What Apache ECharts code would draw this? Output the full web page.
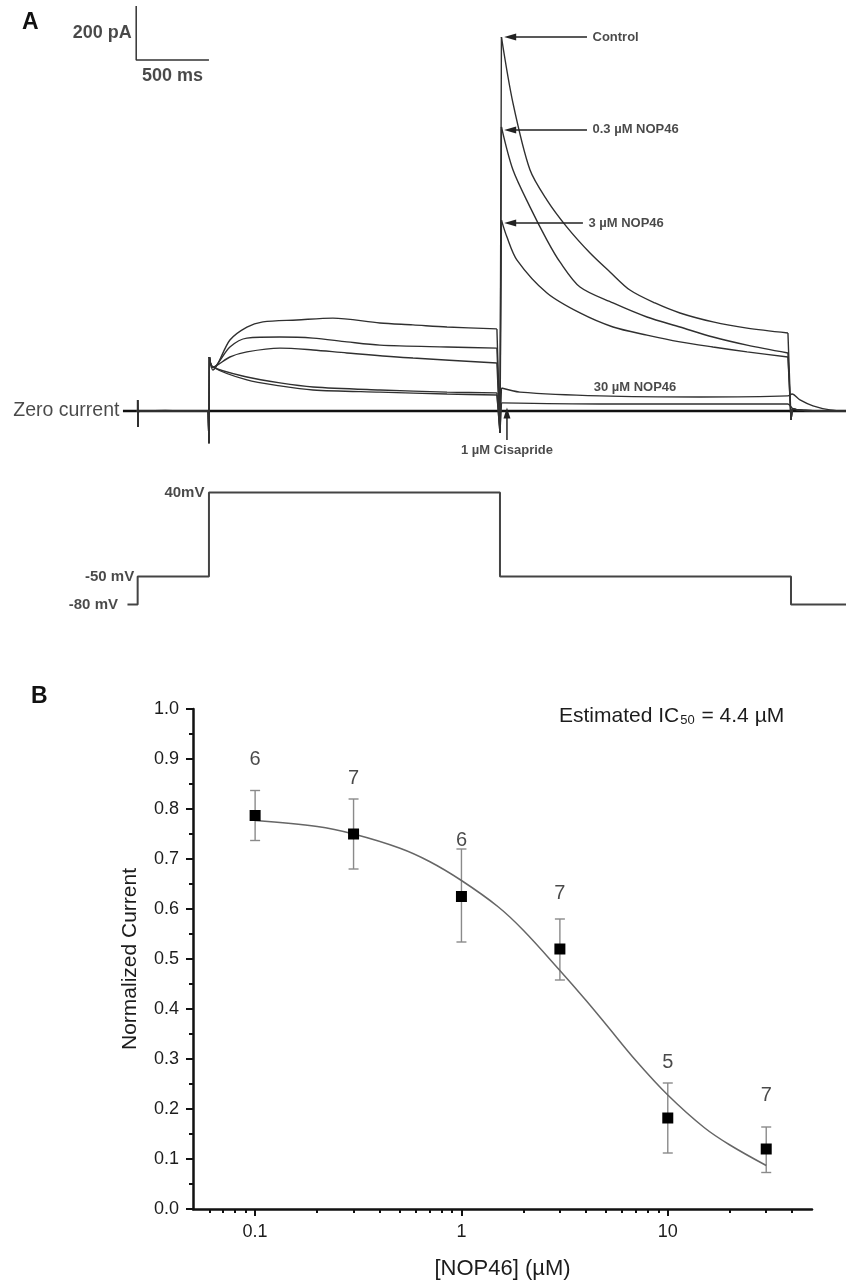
<!DOCTYPE html>
<html><head><meta charset="utf-8">
<script src="https://cdn.jsdelivr.net/npm/echarts@6/dist/echarts.min.js"></script>
<style>html,body{margin:0;padding:0;background:#fff}#c{width:846px;height:1284px}</style>
</head><body><div id="c"></div>
<script>
// ---------- Panel A : currents (time in ms, 0 = start of +40 mV step; current in pA) ----------
const traceControl = [[-500,0],[-490,0],[-490,41],[-488,-59],[-485,0],[-300,2],[-150,-1],[-5,0],
  [0,-119],[3,200],[27,152],[144,263],[261,311],[371,330],[605,337],[852,344],[1175,326],[1402,319],[1636,311],[1979,304],
  [2000,-81],[2010,1385],[2089,1141],[2206,893],[2323,781],[2460,681],[2619,585],[2756,515],[2893,448],[3065,400],[3237,363],[3464,330],[3698,307],[3979,289],
  [4000,-33],[4010,8],[4100,2],[4378,0]];
const trace03 = [[-500,0],[-490,0],[-490,41],[-488,-59],[-485,0],[-250,-1],[-5,0],
  [0,-119],[3,200],[27,160],[144,237],[261,270],[488,274],[715,270],[948,256],[1175,244],[1636,237],[1979,233],
  [2000,-81],[2010,1052],[2089,893],[2206,756],[2323,633],[2412,552],[2550,459],[2777,400],[3010,348],[3237,311],[3464,274],[3698,244],[3979,215],
  [4000,-33],[4010,8],[4100,2],[4378,0]];
const trace3 = [[-500,0],[-490,0],[-490,41],[-488,-59],[-485,0],[-200,1],[-5,0],
  [0,-119],[3,200],[27,163],[144,200],[261,219],[488,233],[715,226],[948,215],[1402,196],[1979,178],
  [2000,-81],[2010,707],[2048,644],[2117,559],[2323,437],[2550,363],[2777,311],[3010,281],[3237,256],[3464,237],[3698,219],[3979,200],
  [4000,-33],[4010,8],[4100,2],[4378,0]];
const trace30 = [[-500,0],[-490,0],[-490,41],[-488,-59],[-485,0],[-350,-1],[-5,0],
  [0,-119],[3,200],[27,163],[261,126],[488,104],[715,89],[1175,78],[1636,70],[1979,67],
  [2000,-81],[2010,85],[2137,70],[2687,56],[3374,52],[3979,56],[4007,63],[4062,41],[4151,19],[4268,4],[4378,0]];
const traceCisapride = [[-500,0],[-490,0],[-490,41],[-488,-59],[-485,0],[-100,1],[-5,0],
  [0,-119],[3,200],[27,163],[261,115],[488,93],[715,78],[1175,70],[1636,63],[1979,59],
  [2000,-81],[2010,30],[2687,26],[3979,26],[4010,10],[4080,3],[4378,0]];
const zeroCurrentLine = [[-591,0],[4378,0]];

const scaleBarOrigin = [-500, 1300];   // ms, pA
const scaleBarTime = 500;              // ms
const scaleBarCurrent = 200;           // pA

const peakLabels = ['Control', '0.3 µM NOP46', '3 µM NOP46'];
const peakLevels = [1385, 1041, 696];  // pA
const arrowTailT = [2598, 2598, 2570]; // ms
const arrowTipT = 2070;                // ms
const lowTraceLabel = {text: '30 µM NOP46', t: 2928, i: 89};
const cisaprideLabel = {text: '1 µM Cisapride', t: 2048, tailI: -107, tipI: -7};

// ---------- Voltage protocol (ms, mV) ----------
const voltageSteps = [[-560,-80],[-490,-80],[-490,-50],[0,-50],[0,40],[2000,40],[2000,-50],[4000,-50],[4000,-80],[4378,-80]];
const voltageLabels = [{t:-560, v:-80, text:'-80 mV', gap:9}, {t:-490, v:-50, text:'-50 mV', gap:3}, {t:0, v:40, text:'40mV', gap:4}];

// ---------- Panel B : concentration response ----------
const conc = [0.1, 0.3, 1, 3, 10, 30];
const normCurrent = [0.787, 0.75, 0.625, 0.52, 0.182, 0.12];
const errUpper = [0.837, 0.82, 0.72, 0.58, 0.252, 0.164];
const errLower = [0.737, 0.68, 0.534, 0.458, 0.112, 0.073];
const nCells = [6, 7, 6, 7, 5, 7];
const nLabelY = [0.9, 0.862, 0.738, 0.632, 0.293, 0.228];
const fitX = [0.1, 0.2, 0.3, 0.5, 0.7, 1, 1.5, 2, 3, 4, 5, 7, 10, 15, 20, 30];
const fitY = [0.777, 0.765, 0.75, 0.722, 0.695, 0.657, 0.605, 0.557, 0.477, 0.418, 0.37, 0.297, 0.228, 0.163, 0.128, 0.087];
const xMinorTicks = [0.06,0.07,0.08,0.09,0.2,0.3,0.4,0.5,0.6,0.7,0.8,0.9,2,3,4,5,6,7,8,9,20,30,40];

// ---------- build ----------
const FONT = "'Liberation Sans', Arial, Helvetica, sans-serif";
const INK = '#1c1c1c';
const TRACE = '#303030';
const chart = echarts.init(document.getElementById('c'), null, {renderer: 'canvas', width: 846, height: 1284});

const tRange = {min: -1436, max: 4378};
const hiddenAxis = {show: false};
const series = [];

// split a recording into slowly varying runs (drawn smoothed) and fast jumps (drawn straight)
function splitTrace(data) {
  const runs = [], jumps = [];
  let cur = [data[0]];
  for (let i = 1; i < data.length; i++) {
    if (data[i][0] - data[i - 1][0] > 22) { cur.push(data[i]); }
    else {
      if (cur.length > 1) { runs.push(...cur, null); }
      jumps.push(data[i - 1], data[i], null);
      cur = [data[i]];
    }
  }
  if (cur.length > 1) runs.push(...cur);
  return {runs, jumps};
}
function lineOn(data, smooth) {
  return {type: 'line', xAxisIndex: 0, yAxisIndex: 0, data: data, showSymbol: false, silent: true,
    connectNulls: false, smooth: smooth, lineStyle: {color: TRACE, width: 1.4}, z: 3};
}
series.push({type: 'line', xAxisIndex: 0, yAxisIndex: 0, data: zeroCurrentLine, showSymbol: false, silent: true,
  lineStyle: {color: '#111', width: 2.4}, z: 2});
[traceControl, trace03, trace3, trace30, traceCisapride].forEach(d => {
  const parts = splitTrace(d);
  series.push(lineOn(parts.runs, 0.3));
  series.push(lineOn(parts.jumps, false));
});

// scale bar
series.push({type: 'line', xAxisIndex: 0, yAxisIndex: 0, showSymbol: false, silent: true,
  lineStyle: {color: '#333', width: 1.5},
  data: [[scaleBarOrigin[0], scaleBarOrigin[1] + scaleBarCurrent], scaleBarOrigin, [scaleBarOrigin[0] + scaleBarTime, scaleBarOrigin[1]]]});

function textPoint(value, text, pos, dist, size, weight) {
  return {value: value, label: {show: true, formatter: text, position: pos, distance: dist,
    fontSize: size, fontWeight: weight || 'normal', fontFamily: FONT, color: INK}};
}
series.push({type: 'scatter', xAxisIndex: 0, yAxisIndex: 0, symbolSize: 1, silent: true,
  itemStyle: {color: 'rgba(0,0,0,0)'},
  data: [
    textPoint([scaleBarOrigin[0], scaleBarOrigin[1] + scaleBarCurrent / 2], scaleBarCurrent + ' pA', 'left', 4, 18, 'bold'),
    textPoint([scaleBarOrigin[0] + scaleBarTime / 2, scaleBarOrigin[1]], scaleBarTime + ' ms', 'bottom', 7, 18, 'bold'),
    textPoint(zeroCurrentLine[0], 'Zero current', 'left', 3, 19.5),
    textPoint([lowTraceLabel.t, lowTraceLabel.i], lowTraceLabel.text, 'inside', 0, 13, 'bold'),
    textPoint([cisaprideLabel.t, cisaprideLabel.tailI], cisaprideLabel.text, 'bottom', 4, 13, 'bold')
  ].concat(peakLabels.map((s, k) => textPoint([arrowTailT[k], peakLevels[k]], s, 'right', 5, 13, 'bold')))
});

// arrows
peakLabels.forEach((s, k) => {
  series.push({type: 'line', xAxisIndex: 0, yAxisIndex: 0, silent: true, showSymbol: true, symbol: 'none',
    lineStyle: {color: '#222', width: 1.5}, itemStyle: {color: '#222'},
    data: [{value: [arrowTailT[k], peakLevels[k]], symbol: 'none'},
           {value: [arrowTipT, peakLevels[k]], symbol: 'triangle', symbolSize: [7, 12], symbolRotate: 90}]});
});
series.push({type: 'line', xAxisIndex: 0, yAxisIndex: 0, silent: true, showSymbol: true, symbol: 'none',
  lineStyle: {color: '#222', width: 1.5}, itemStyle: {color: '#222'},
  data: [{value: [cisaprideLabel.t, cisaprideLabel.tailI], symbol: 'none'},
         {value: [cisaprideLabel.t, cisaprideLabel.tipI], symbol: 'triangle', symbolSize: [7, 11]}]});

// voltage protocol
series.push({type: 'line', xAxisIndex: 1, yAxisIndex: 1, data: voltageSteps, showSymbol: false, silent: true,
  lineStyle: {color: '#444', width: 2}});
series.push({type: 'scatter', xAxisIndex: 1, yAxisIndex: 1, symbolSize: 1, silent: true,
  itemStyle: {color: 'rgba(0,0,0,0)'},
  data: voltageLabels.map(o => textPoint([o.t, o.v], o.text, 'left', o.gap, 15, 'bold'))});

// Panel B
series.push({type: 'custom', xAxisIndex: 2, yAxisIndex: 2, silent: true, z: 3,
  data: conc.map((c, k) => [c, errLower[k], errUpper[k]]),
  encode: {x: 0, y: [1, 2]},
  renderItem: function (params, api) {
    const lo = api.coord([api.value(0), api.value(1)]);
    const hi = api.coord([api.value(0), api.value(2)]);
    const cap = 5;
    const st = {stroke: '#8a8a8a', lineWidth: 1.4};
    return {type: 'group', children: [
      {type: 'line', shape: {x1: lo[0], y1: lo[1], x2: hi[0], y2: hi[1]}, style: st},
      {type: 'line', shape: {x1: lo[0] - cap, y1: lo[1], x2: lo[0] + cap, y2: lo[1]}, style: st},
      {type: 'line', shape: {x1: hi[0] - cap, y1: hi[1], x2: hi[0] + cap, y2: hi[1]}, style: st}
    ]};
  }});
series.push({type: 'line', xAxisIndex: 2, yAxisIndex: 2, silent: true, showSymbol: false, smooth: 0.35, z: 4,
  data: fitX.map((x, k) => [x, fitY[k]]), lineStyle: {color: '#666', width: 1.5}});
series.push({type: 'scatter', xAxisIndex: 2, yAxisIndex: 2, silent: true, symbol: 'rect', symbolSize: 11, z: 5,
  itemStyle: {color: '#000', opacity: 1}, data: conc.map((c, k) => [c, normCurrent[k]])});
series.push({type: 'scatter', xAxisIndex: 2, yAxisIndex: 2, silent: true, symbolSize: 1, z: 5,
  itemStyle: {color: 'rgba(0,0,0,0)'},
  data: conc.map((c, k) => textPoint([c, nLabelY[k]], String(nCells[k]), 'inside', 0, 20))});

const axisInk = '#111';
chart.setOption({
  animation: false,
  backgroundColor: '#fff',
  textStyle: {fontFamily: FONT},
  grid: [
    {left: 0, right: 0, top: 0, height: 470, outerBoundsMode: 'none'},
    {left: 0, right: 0, top: 446, height: 205, outerBoundsMode: 'none'},
    {left: 193, right: 34, top: 709, height: 500, outerBoundsMode: 'none'}
  ],
  xAxis: [
    Object.assign({type: 'value', gridIndex: 0}, tRange, hiddenAxis),
    Object.assign({type: 'value', gridIndex: 1}, tRange, hiddenAxis),
    {type: 'log', gridIndex: 2, logBase: 10, min: 0.05, max: 50,
      name: '[NOP46] (µM)', nameLocation: 'middle', nameGap: 49,
      nameTextStyle: {fontSize: 22, color: INK, fontFamily: FONT},
      axisLine: {show: true, onZero: false, lineStyle: {color: axisInk, width: 2.5}},
      axisTick: {show: true, inside: false, length: 7, lineStyle: {color: axisInk, width: 2}},
      axisLabel: {show: true, fontSize: 18, color: INK, margin: 14, fontFamily: FONT, showMinLabel: false, showMaxLabel: false,
        formatter: v => String(+v.toPrecision(3))},
      splitLine: {show: false}, minorTick: {show: false}},
    {type: 'log', gridIndex: 2, logBase: 10, min: 0.05, max: 50, position: 'bottom',
      axisLine: {show: false}, axisLabel: {show: false}, splitLine: {show: false},
      axisTick: {show: true, inside: false, length: 4, customValues: xMinorTicks, lineStyle: {color: axisInk, width: 2}}}
  ],
  yAxis: [
    {type: 'value', gridIndex: 0, min: -218.5, max: 1522, show: false},
    {type: 'value', gridIndex: 1, min: -130, max: 90, show: false},
    {type: 'value', gridIndex: 2, min: 0, max: 1, interval: 0.1,
      name: 'Normalized Current', nameLocation: 'middle', nameGap: 52, nameRotate: 90,
      nameTextStyle: {fontSize: 21, color: INK, fontFamily: FONT},
      axisLine: {show: true, onZero: false, lineStyle: {color: axisInk, width: 2.5}},
      axisTick: {show: true, inside: false, length: 7, lineStyle: {color: axisInk, width: 2}},
      minorTick: {show: true, splitNumber: 2, length: 4, lineStyle: {color: axisInk, width: 2}},
      axisLabel: {fontSize: 18, color: INK, margin: 14, fontFamily: FONT, formatter: v => v.toFixed(1)},
      splitLine: {show: false}, minorSplitLine: {show: false}}
  ],
  graphic: [
    {type: 'text', left: 22, top: 11, style: {text: 'A', fontSize: 23, fontWeight: 'bold', fill: '#111', fontFamily: FONT}},
    {type: 'text', left: 31, top: 685, style: {text: 'B', fontSize: 23, fontWeight: 'bold', fill: '#111', fontFamily: FONT}},
    {type: 'text', left: 559, top: 704, style: {
      text: '{a|Estimated IC}{s|50}{a| = 4.4 µM}', fill: INK, fontFamily: FONT,
      rich: {a: {fontSize: 21, fontFamily: FONT, fill: INK, verticalAlign: 'bottom', lineHeight: 26},
             s: {fontSize: 13, fontFamily: FONT, fill: INK, verticalAlign: 'bottom', lineHeight: 26, padding: [10, 1, 0, 1]}}}}
  ],
  series: series
});
</script></body></html>
